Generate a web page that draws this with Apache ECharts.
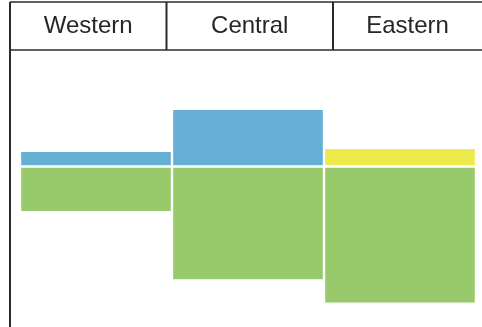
<!DOCTYPE html>
<html>
<head>
<meta charset="utf-8">
<script src="https://cdn.jsdelivr.net/npm/echarts@6/dist/echarts.min.js"></script>
<style>html,body{margin:0;padding:0;background:#fff}#c{width:482px;height:327px}</style>
</head>
<body>
<div id="c"></div>
<script>
var categories = ['Western', 'Central', 'Eastern'];
var upperValues = [10.5, 38.5, 12.5];
var upperColors = ['#64AFD3', '#64AFD3', '#EDEB4B'];
var lowerValues = [-30.5, -76, -91.5];
var lowerColor = '#98C96B';

var chart = echarts.init(document.getElementById('c'), null, {renderer: 'canvas'});

// header table (cell edges)
var headerEdges = [10, 166.5, 333, 482];
var lineColor = '#2b2b2b';
var graphics = [
  {type: 'line', shape: {x1: 10, y1: 2, x2: 482, y2: 2}, style: {stroke: lineColor, lineWidth: 1.5}},
  {type: 'line', shape: {x1: 10, y1: 50, x2: 482, y2: 50}, style: {stroke: lineColor, lineWidth: 1.5}},
  {type: 'line', shape: {x1: 10, y1: 2, x2: 10, y2: 327}, style: {stroke: lineColor, lineWidth: 2}},
  {type: 'line', shape: {x1: 166.5, y1: 2, x2: 166.5, y2: 50}, style: {stroke: lineColor, lineWidth: 2}},
  {type: 'line', shape: {x1: 333, y1: 2, x2: 333, y2: 50}, style: {stroke: lineColor, lineWidth: 2}}
];
categories.forEach(function (name, i) {
  graphics.push({
    type: 'text',
    style: {
      text: name,
      x: (headerEdges[i] + headerEdges[i + 1]) / 2,
      y: 26,
      align: 'center',
      verticalAlign: 'middle',
      font: '24px "Liberation Sans", Arial, sans-serif',
      fill: '#262626'
    }
  });
});

chart.setOption({
  animation: false,
  grid: {left: 20, right: 6, top: 46.5, bottom: 10.5},
  xAxis: {
    type: 'category',
    data: categories,
    show: false
  },
  yAxis: {
    type: 'value',
    min: -100,
    max: 80,
    show: false
  },
  series: [
    {
      type: 'bar',
      stack: 'total',
      barCategoryGap: '0%',
      data: upperValues.map(function (v, i) {
        return {value: v, itemStyle: {color: upperColors[i]}};
      }),
      itemStyle: {borderColor: '#ffffff', borderWidth: 1.2}
    },
    {
      type: 'bar',
      stack: 'total',
      barCategoryGap: '0%',
      data: lowerValues,
      itemStyle: {color: lowerColor, borderColor: '#ffffff', borderWidth: 1.2}
    }
  ],
  graphic: graphics
});
</script>
</body>
</html>
